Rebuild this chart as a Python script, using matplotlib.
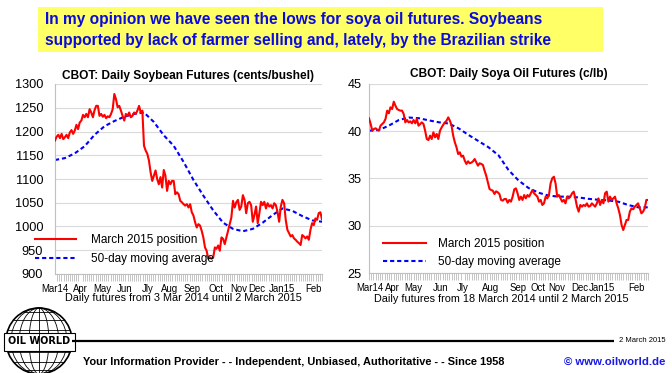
import numpy as np
import matplotlib
matplotlib.use('Agg')
import matplotlib.pyplot as plt
from matplotlib.patches import Rectangle, Circle, Ellipse

plt.rcParams['font.family'] = ['Liberation Sans', 'DejaVu Sans']

W, H = 672, 373

headline = ['In my opinion we have seen the lows for soya oil futures. Soybeans',
            'supported by lack of farmer selling and, lately, by the Brazilian strike']
bean_title = 'CBOT: Daily Soybean Futures (cents/bushel)'
oil_title = 'CBOT: Daily Soya Oil Futures (c/lb)'
bean_note = 'Daily futures from 3 Mar 2014 until 2 March 2015'
oil_note = 'Daily futures from 18 March 2014 until 2 March 2015'
legend_labels = ['March 2015 position', '50-day moving average']
footer = 'Your Information Provider - - Independent, Unbiased, Authoritative - - Since 1958'
website = '\u00a9 www.oilworld.de'
stamp = '2 March 2015'

months = ['Mar14', 'Apr', 'May', 'Jun', 'Jly', 'Aug', 'Sep', 'Oct', 'Nov', 'Dec', 'Jan15', 'Feb']
# month label positions as fraction of the period shown
bean_month_pos = [0.0, 0.096, 0.178, 0.262, 0.348, 0.429, 0.515, 0.602, 0.687, 0.755, 0.850, 0.969]
oil_month_pos = [0.003, 0.085, 0.159, 0.258, 0.336, 0.434, 0.533, 0.606, 0.674, 0.755, 0.834, 0.957]

# soybeans, cents/bushel
bean_price = [
    1181, 1189, 1193, 1186, 1195, 1184, 1188, 1193, 1186, 1198,
    1203, 1195, 1202, 1214, 1205, 1219, 1223, 1235, 1230, 1237,
    1230, 1247, 1240, 1230, 1245, 1254, 1254, 1233, 1237, 1231,
    1235, 1228, 1232, 1230, 1237, 1247, 1279, 1268, 1251, 1254,
    1244, 1233, 1223, 1237, 1233, 1240, 1230, 1233, 1240, 1237,
    1244, 1254, 1240, 1244, 1170, 1160, 1153,
    1139, 1114, 1096, 1107, 1118, 1100, 1089, 1104, 1082, 1119,
    1107, 1075, 1096, 1089, 1096, 1096, 1068, 1072, 1068, 1054,
    1051, 1047, 1044, 1047, 1040, 1047, 1030, 1023, 1009, 998,
    1005, 1002, 991, 977, 956, 949, 932, 935, 932, 935,
    956, 953, 960, 949, 977, 974, 963, 977, 991, 1005,
    1019, 1054, 1040, 1051,
    1056, 1035, 1042, 1066, 1056, 1028, 1049, 1052, 1045, 1010,
    1024, 1042, 1007, 1028, 1052, 1045, 1052, 1038, 1049, 1042,
    1045, 1038, 1049, 1045, 1031, 1010, 1042, 1056, 1049, 1014,
    993, 986, 979, 982, 975, 972, 968, 965, 961, 982,
    979, 975, 979, 972, 993, 1007, 1003, 1017, 1014, 1028,
    1030, 1015]
bean_ma = [1140, 1144, 1154, 1169, 1193, 1211, 1222, 1231, 1237, 1240,
           1220, 1192, 1170, 1136, 1098, 1065, 1034, 1008, 995, 990,
           995, 1008, 1024, 1038, 1033, 1022, 1013, 1010]

# soya oil, c/lb
oil_price = [
    41.37, 40.77, 40.06, 40.24, 40.31, 40.17, 40.06, 40.59, 40.77, 40.94,
    41.30, 42.18, 41.90, 42.53, 42.35, 43.13, 42.71, 42.35, 42.25, 42.18,
    42.18, 41.83, 40.94, 41.19, 40.94, 41.05, 40.84, 41.19, 40.84, 41.30,
    40.59, 40.77, 40.94, 40.77, 40.06, 39.18, 39.07, 39.53, 39.18, 39.89,
    39.36, 39.71, 39.18, 40.06, 40.41, 40.70, 40.94, 41.12, 41.47, 41.12,
    40.59, 39.53, 38.83, 38.30, 37.59, 37.77, 37.31, 37.42, 36.89, 36.54,
    36.82, 36.61, 36.68, 36.82, 37.06, 36.71, 36.36, 36.61, 36.54, 36.43,
    35.83, 35.30, 34.60, 33.89, 33.78, 33.71, 33.36, 33.64, 33.54, 33.36,
    32.73, 32.66, 32.83, 32.83,
    32.44, 32.73, 32.55, 33.08, 33.85, 33.96, 33.43, 32.73, 33.08, 32.73,
    33.25, 32.90, 33.25, 33.08, 33.43, 33.78, 33.43, 33.25, 33.08, 32.55,
    32.73, 32.20, 32.37, 33.08, 32.90, 33.25, 34.49, 35.02, 35.19, 34.49,
    33.08, 33.25, 32.90, 32.55, 32.73, 32.37, 33.08, 32.90, 33.08, 33.43,
    33.61, 32.90, 32.02, 31.49, 32.20, 32.02, 32.20, 32.09, 32.37, 32.02,
    32.09, 32.37, 32.20, 32.02, 32.37, 32.90, 32.20, 32.73, 32.37, 33.43,
    33.61, 32.55, 33.08, 32.73, 32.90, 33.08, 32.37, 31.84, 31.14, 30.08,
    29.55, 30.08, 30.61, 30.61, 31.49, 31.84, 31.74, 32.02, 32.20, 32.37,
    31.84, 31.31, 31.49, 31.84, 32.73, 32.73]
oil_ma = [40.06, 40.13, 40.60, 41.19, 41.45, 41.38, 41.15, 40.95, 40.82, 40.30,
          39.60, 38.95, 38.30, 37.45, 35.90, 34.80, 34.00, 33.50, 33.20, 33.08,
          33.08, 33.00, 32.85, 32.75, 32.68, 32.55, 32.20, 31.95, 31.95]

RED = '#FF0000'
BLUE = '#0000FF'
GRID = '#DADADA'

fig = plt.figure(figsize=(W / 100.0, H / 100.0), dpi=100)

# decoration layer in pixel coordinates
deco = fig.add_axes([0, 0, 1, 1])
deco.set_xlim(0, W)
deco.set_ylim(H, 0)
deco.axis('off')

deco.add_patch(Rectangle((38, 7), 565, 45, color='#FFFF66', lw=0))
deco.text(45, 19.5, headline[0], fontsize=11.2, fontweight='bold', color='#0A0AE0', va='center', ha='left')
deco.text(45, 40, headline[1], fontsize=11.2, fontweight='bold', color='#0A0AE0', va='center', ha='left')

# footer
deco.plot([72, 614], [341, 341], color='black', lw=1.6, solid_capstyle='butt')
deco.text(619, 341, stamp, fontsize=5.5, va='center', ha='left')
deco.text(83, 362, footer, fontsize=7.9, fontweight='bold', va='center', ha='left')
deco.text(665, 362, website, fontsize=8.2, fontweight='bold', color='#1A1AE6', va='center', ha='right')

# globe logo
cx, cy, r = 39, 341, 33
deco.add_patch(Circle((cx, cy), r, fill=False, ec='black', lw=1.2))
for f in [0.3, 0.6, 0.85]:
    deco.add_patch(Ellipse((cx, cy), 2 * r * f, 2 * r, fill=False, ec='black', lw=0.6))
deco.plot([cx, cx], [cy - r, cy + r], color='black', lw=0.6)
for lat in [-62, -40, -20, 20, 40, 62]:
    yy = cy + r * np.sin(np.radians(lat))
    hw = r * np.cos(np.radians(lat))
    deco.plot([cx - hw, cx + hw], [yy, yy], color='black', lw=0.6)
deco.add_patch(Rectangle((4, 332.5), 71, 18, fc='white', ec='black', lw=0.8))
deco.text(cx + 0.5, 341.5, 'OIL WORLD', fontsize=7.0, fontweight='bold', family='DejaVu Sans',
          va='center', ha='center')


def draw_panel(rect, price, ma, ylim, yticks, title, title_pad, month_pos, ypad, leg_anchor, leg_len, leg_pad, leg_space):
    ax = fig.add_axes(rect)
    x1 = np.linspace(0, 1, len(price))
    x2 = np.linspace(0, 1, len(ma))
    l1, = ax.plot(x1, price, color=RED, lw=1.5, zorder=3)
    l2, = ax.plot(x2, ma, color=BLUE, lw=1.5, ls=(0, (2.0, 1.4)), zorder=2)
    ax.set_xlim(0, 1)
    ax.set_ylim(*ylim)
    ax.set_yticks(yticks)
    ax.set_xticks(month_pos)
    ax.set_xticklabels(months)
    ax.set_xticks(np.arange(0, 1.0001, 1 / 125.0), minor=True)
    ax.tick_params(axis='x', which='major', length=0, pad=7, labelsize=6.9)
    ax.tick_params(axis='x', which='minor', length=5, width=0.6, color='#BBBBBB')
    ax.tick_params(axis='y', length=0, pad=ypad, labelsize=9.2)
    ax.grid(axis='y', color=GRID, lw=0.8)
    ax.set_axisbelow(True)
    for s in ['top', 'right']:
        ax.spines[s].set_visible(False)
    for s in ['left', 'bottom']:
        ax.spines[s].set_color('#C0C0C0')
        ax.spines[s].set_linewidth(0.8)
    ax.set_title(title, fontsize=8.6, fontweight='bold', pad=title_pad)
    ax.legend([l1, l2], legend_labels, loc='upper left', bbox_to_anchor=leg_anchor,
              frameon=False, fontsize=8.5, handlelength=leg_len, handletextpad=leg_pad,
              labelspacing=leg_space, borderpad=0, borderaxespad=0)
    return ax


draw_panel([55 / W, 1 - 274 / H, 267 / W, 190 / H], bean_price, bean_ma, (900, 1300),
           np.arange(900, 1301, 50), bean_title, 3.6, bean_month_pos, 8.6,
           (-20 / 267.0, 0.212), 3.5, 1.25, 0.65)
draw_panel([369 / W, 1 - 273 / H, 279 / W, 189 / H], oil_price, oil_ma, (25, 45),
           np.arange(25, 46, 5), oil_title, 5, oil_month_pos, 5,
           (14 / 279.0, 0.184), 3.6, 1.1, 0.48)

fig.text(183 / W, 1 - 298 / H, bean_note, fontsize=7.8, ha='center', va='center')
fig.text(501 / W, 1 - 299 / H, oil_note, fontsize=7.8, ha='center', va='center')

plt.savefig('out.png', dpi=100)
